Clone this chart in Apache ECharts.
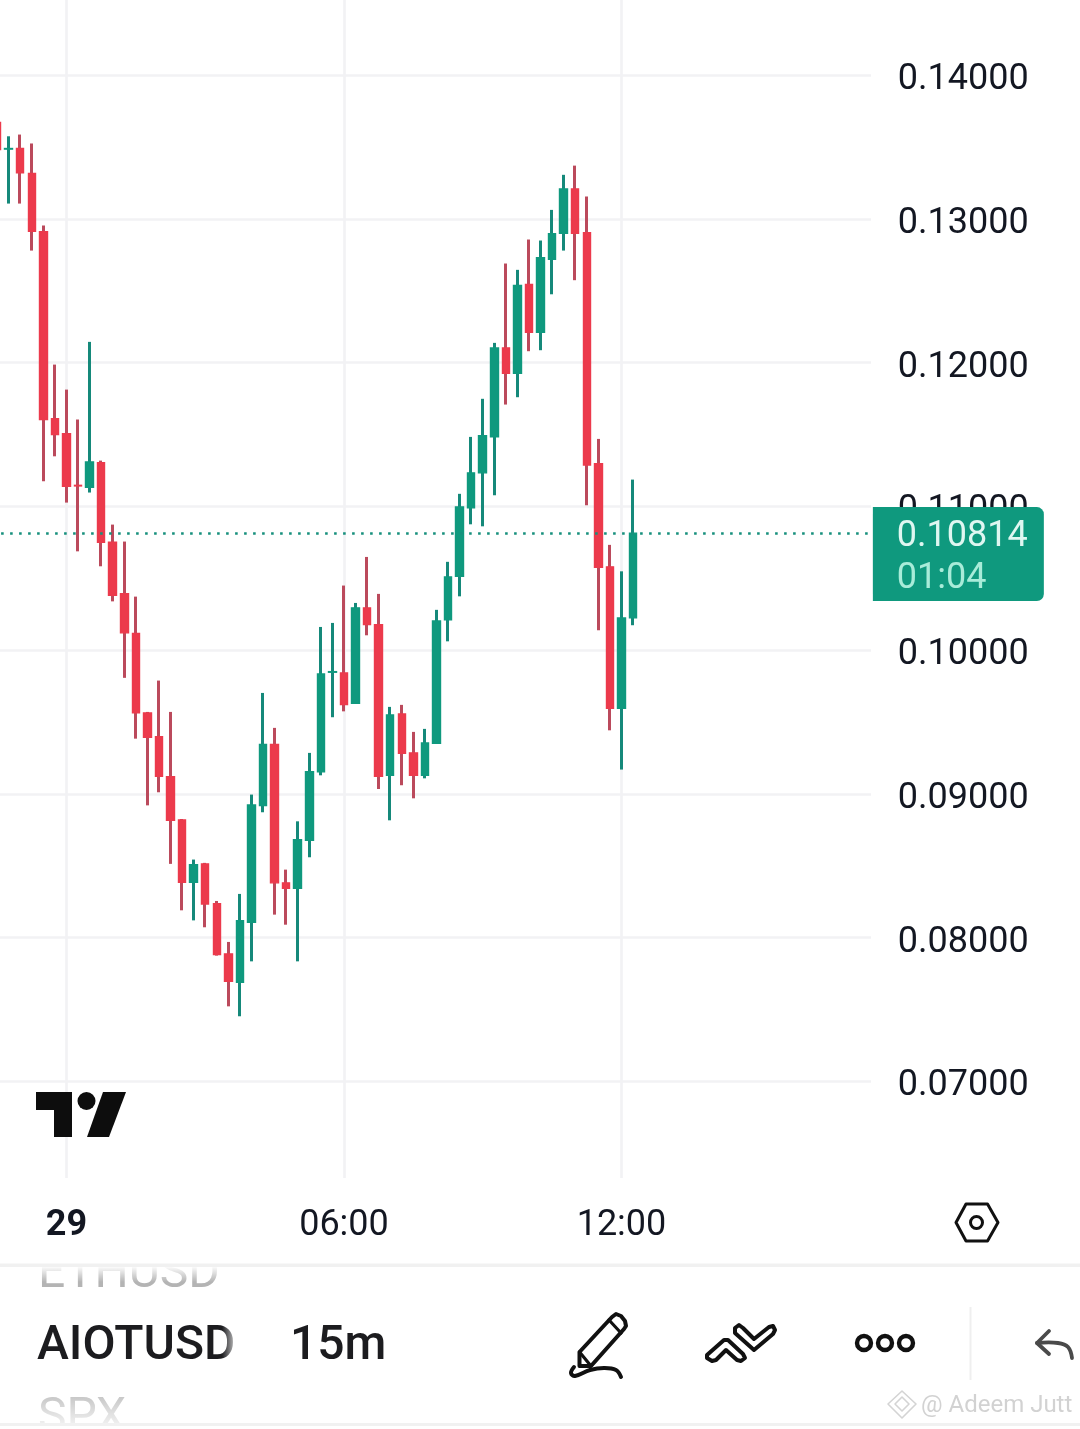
<!DOCTYPE html>
<html>
<head>
<meta charset="utf-8">
<style>html,body{margin:0;padding:0;background:#fff}#c{width:1080px;height:1429px}</style>
<script src="https://cdn.jsdelivr.net/npm/echarts@6/dist/echarts.min.js"></script>
</head>
<body>
<div id="c"></div>
<script>
const symbolName = 'AIOTUSD';
const timeframe = '15m';
const lastPrice = 0.10814;
const countdown = '01:04';
const yTicks = [0.07, 0.08, 0.09, 0.10, 0.11, 0.12, 0.13, 0.14];
const xTickLabels = {'00:00': '29', '06:00': '06:00', '12:00': '12:00'};

const opens = [0.13670,0.13485,0.13489,0.13315,0.12911,0.11610,0.11506,0.11146,0.11133,0.11304,0.10750,0.10393,0.10115,0.09563,0.09398,0.09120,0.08819,0.08385,0.08513,0.08236,0.07887,0.07689,0.08106,0.08918,0.09343,0.08381,0.08343,0.08677,0.09153,0.09846,0.09841,0.09630,0.10294,0.10177,0.09129,0.09556,0.09285,0.09129,0.09352,0.10210,0.10513,0.10989,0.11233,0.11483,0.12102,0.11926,0.12543,0.12211,0.12719,0.12900,0.13208,0.12904,0.11297,0.10579,0.09595,0.10224];
const closes = [0.13482,0.13489,0.13320,0.12913,0.11604,0.11499,0.11140,0.11142,0.11309,0.10750,0.10381,0.10120,0.09563,0.09393,0.09122,0.08816,0.08385,0.08508,0.08234,0.07882,0.07696,0.08118,0.08923,0.09343,0.08381,0.08343,0.08682,0.09155,0.09834,0.09850,0.09621,0.10294,0.10177,0.09122,0.09549,0.09282,0.09129,0.09354,0.10203,0.10509,0.10996,0.11233,0.11492,0.12102,0.11926,0.12536,0.12211,0.12730,0.12897,0.13208,0.12900,0.11288,0.10576,0.09595,0.10224,0.10814];
const lows = [0.13482,0.13106,0.13106,0.12779,0.11174,0.11348,0.11026,0.10687,0.11096,0.10583,0.10339,0.09807,0.09384,0.08920,0.09011,0.08513,0.08190,0.08120,0.08072,0.07875,0.07522,0.07453,0.07835,0.08872,0.08160,0.08090,0.07835,0.08559,0.09129,0.09533,0.09574,0.09625,0.10103,0.09034,0.08816,0.09060,0.08969,0.09108,0.09347,0.10061,0.10374,0.10875,0.10861,0.11077,0.11708,0.11759,0.12079,0.12086,0.12475,0.12779,0.12573,0.11007,0.10138,0.09442,0.09169,0.10173];
const highs = [0.13670,0.13574,0.13586,0.13524,0.12953,0.11986,0.11812,0.11604,0.12144,0.11318,0.10873,0.10755,0.10372,0.09570,0.09788,0.09570,0.08825,0.08543,0.08520,0.08255,0.07970,0.08304,0.08995,0.09702,0.09459,0.08473,0.08809,0.09285,0.10161,0.10189,0.10449,0.10328,0.10648,0.10391,0.09605,0.09619,0.09431,0.09452,0.10280,0.10614,0.11087,0.11483,0.11748,0.12137,0.12689,0.12645,0.12856,0.12849,0.13062,0.13306,0.13370,0.13155,0.11469,0.10732,0.10548,0.11186];

// 15-minute slots: six bars before midnight, then on past the last bar into the empty space on the right.
const categories = [];
for (let i = -6; i <= 70; i++) {
  const m = (i * 15 + 1440) % 1440;
  categories.push(String(Math.floor(m / 60)).padStart(2, '0') + ':' + String(m % 60).padStart(2, '0'));
}

const UP = '#0f997e', DOWN = '#ec3a4c', UP_WICK = '#15897a', DOWN_WICK = '#bb4a5c', GRID = '#f2f2f4', INK = '#131722';
const wicks = opens.map((o, i) => [o, closes[i], lows[i], highs[i]]);
const bodies = opens.map((o, i) => [o, closes[i], Math.min(o, closes[i]), Math.max(o, closes[i])]);

const FONT = 'Roboto, sans-serif';
function txt(text, x, y, size, fill, weight) {
  return {type: 'text', z: 20, silent: true,
    style: {text, x, y, fill, align: 'left', verticalAlign: 'middle', font: (weight || 400) + ' ' + size + 'px ' + FONT}};
}
function line(points, lineWidth, color, smooth) {
  return {type: 'polyline', z: 22, silent: true, shape: {points, smooth: smooth || 0},
    style: {fill: 'none', stroke: color || '#111', lineWidth, lineJoin: 'round', lineCap: 'round'}};
}
function outline(points, lineWidth, color) {
  return {type: 'polygon', z: 22, silent: true, shape: {points},
    style: {fill: 'none', stroke: color || '#111', lineWidth, lineJoin: 'round', lineCap: 'round'}};
}
function solid(points, fill) {
  return {type: 'polygon', z: 20, silent: true, shape: {points}, style: {fill, stroke: 'none'}};
}
function ring(cx, cy, r, lineWidth, color) {
  return {type: 'circle', z: 22, silent: true, shape: {cx, cy, r}, style: {fill: 'none', stroke: color || '#111', lineWidth}};
}
function fade(x, y, w, h, dir, from, to) {
  return {type: 'rect', z: 21, silent: true, shape: {x, y, width: w, height: h},
    style: {fill: new echarts.graphic.LinearGradient(0, 0, dir === 'h' ? 1 : 0, dir === 'h' ? 0 : 1,
      [{offset: 0, color: from}, {offset: 1, color: to}])}};
}
function box(x, y, w, h, fill, z) {
  return {type: 'rect', z: z || 23, silent: true, shape: {x, y, width: w, height: h}, style: {fill}};
}

const chart = echarts.init(document.getElementById('c'), null, {renderer: 'canvas', width: 1080, height: 1429});
chart.setOption({
  animation: false,
  backgroundColor: '#fff',
  grid: {left: -2.9, width: 878.75, top: 0, bottom: 251, containLabel: false, outerBoundsMode: 'none'},
  xAxis: {
    type: 'category', data: categories, boundaryGap: false,
    axisLine: {show: false}, axisTick: {show: false},
    splitLine: {show: true, interval: (i, v) => xTickLabels[v] !== undefined, lineStyle: {color: GRID, width: 2.6}},
    axisLabel: {
      interval: (i, v) => xTickLabels[v] !== undefined,
      formatter: v => v === '00:00' ? '{b|' + xTickLabels[v] + '}' : '{n|' + xTickLabels[v] + '}',
      margin: 30, hideOverlap: false,
      rich: {
        b: {fontFamily: FONT, fontSize: 36, fontWeight: 700, color: INK},
        n: {fontFamily: FONT, fontSize: 36, fontWeight: 400, color: INK}
      }
    }
  },
  yAxis: {
    type: 'value', position: 'right', min: 0.06328, max: 0.14522, scale: true,
    axisLine: {show: false},
    axisTick: {show: false, customValues: yTicks},
    splitLine: {show: true, lineStyle: {color: GRID, width: 2.6}},
    axisLabel: {customValues: yTicks, formatter: v => '{a|' + v.toFixed(5) + '}', margin: 22, align: 'left',
      rich: {a: {fontFamily: FONT, fontSize: 36, color: INK, padding: [10, 0, 0, 0]}}}
  },
  series: [
    {
      type: 'candlestick', name: symbolName + ' wicks', data: wicks, barWidth: 1, silent: true,
      itemStyle: {color: UP_WICK, color0: DOWN_WICK, borderColor: UP_WICK, borderColor0: DOWN_WICK, borderWidth: 3}
    },
    {
      type: 'candlestick', name: symbolName, data: bodies, barWidth: 8, silent: true,
      itemStyle: {color: UP, color0: DOWN, borderColor: UP, borderColor0: DOWN, borderWidth: 1.4},
      markLine: {
        silent: true, symbol: 'none', animation: false, precision: 5,
        lineStyle: {color: '#17907d', width: 2.6, type: [2.6, 6.4], dashOffset: 5, opacity: 1},
        label: {
          show: true, position: 'end', distance: -3, offset: [0, 21],
          formatter: () => '{p|' + lastPrice.toFixed(5) + '}\n{t|' + countdown + '}',
          backgroundColor: UP, borderRadius: [0, 7, 7, 0], padding: [8.5, 36, 1.5, 24],
          align: 'left',
          rich: {
            p: {fontFamily: FONT, fontSize: 36, color: '#dff7f1', lineHeight: 42, width: 111},
            t: {fontFamily: FONT, fontSize: 36, color: '#a8ecd9', lineHeight: 42, width: 111}
          }
        },
        data: [{yAxis: lastPrice}]
      }
    }
  ],
  graphic: {elements: [
    // gridlines stop a little before the price scale
    box(871, 0, 6, 1178, '#fff', 3),
    // TradingView mark
    solid([[36, 1092], [72, 1092], [72, 1137], [54, 1137], [54, 1110], [36, 1110]], '#0d0d0d'),
    solid([[103, 1092], [126, 1092], [109, 1137], [87, 1137]], '#0d0d0d'),
    {type: 'circle', z: 20, silent: true, shape: {cx: 86.5, cy: 1101, r: 9}, style: {fill: '#0d0d0d'}},
    // settings hexagon
    outline([[956, 1222.5], [966, 1204], [987.5, 1204], [998, 1222.5], [987.5, 1241], [966, 1241]], 3),
    ring(976.5, 1222.5, 6, 3),
    // symbol wheel
    txt('ETHUSD', 38, 1275, 48, '#b4b4b4'),
    txt(symbolName, 37, 1347, 48, '#1c1c1f', 500),
    txt(timeframe, 290, 1347, 48, '#1c1c1f', 500),
    txt('SPX', 38, 1419, 48, '#b4b4b4'),
    fade(30, 1266, 200, 16, 'v', '#fff', 'rgba(255,255,255,0)'),
    box(0, 1240, 900, 24, '#fff', 23),
    fade(30, 1396, 120, 28, 'v', 'rgba(255,255,255,0.25)', 'rgba(255,255,255,0.8)'),
    fade(222, 1320, 18, 46, 'h', 'rgba(255,255,255,0)', '#fff'),
    box(0, 1423, 1080, 6, '#fff', 23),
    // separators
    box(0, 1263.5, 1080, 3.5, '#f1f1f1', 24),
    box(0, 1423, 1080, 3, '#f1f1f1', 24),
    box(969.5, 1307, 2, 73, '#efefef', 24),
    // pencil
    outline([[579.5, 1366], [579.5, 1352], [612, 1317], [616, 1314], [621, 1316], [625, 1321], [626, 1326], [624, 1329], [591, 1366]], 4),
    line([[579.5, 1352], [591, 1366]], 3.2),
    line([[609, 1320], [621, 1333]], 3.2),
    line([[574, 1367], [571, 1373], [575, 1376], [590, 1370], [604, 1368], [616, 1370], [621, 1377]], 4, '#111', 0.4),
    // trend tools
    outline([[707, 1355], [724, 1340], [728, 1340], [743, 1354], [745, 1358], [741, 1361], [737, 1360], [726, 1350], [716, 1360], [712, 1361], [707, 1358]], 4),
    outline([[735, 1328], [739, 1325], [743, 1328], [754, 1339], [769, 1327], [773, 1326], [775, 1330], [773, 1334], [754, 1350], [735, 1333]], 4),
    // more
    ring(864, 1343, 7, 4.4), ring(885, 1343, 7, 4.4), ring(906, 1343, 7, 4.4),
    // undo
    line([[1049, 1331], [1037, 1343], [1049, 1354]], 3.8, '#4a4a4a'),
    line([[1037, 1343], [1058, 1343], [1068, 1347], [1072, 1358]], 3.8, '#4a4a4a', 0.4),
    fade(1050, 1335, 26, 28, 'h', 'rgba(255,255,255,0)', 'rgba(255,255,255,0.75)'),
    // watermark
    outline([[902, 1391], [916, 1404], [902, 1418], [888, 1404]], 1.6, '#d4d4d4'),
    outline([[895, 1404], [902, 1397], [909, 1404], [902, 1411]], 1.6, '#d4d4d4'),
    txt('@ Adeem Jutt', 921, 1406, 24, '#d2d2d2', 400)
  ]}
});
</script>
</body>
</html>
